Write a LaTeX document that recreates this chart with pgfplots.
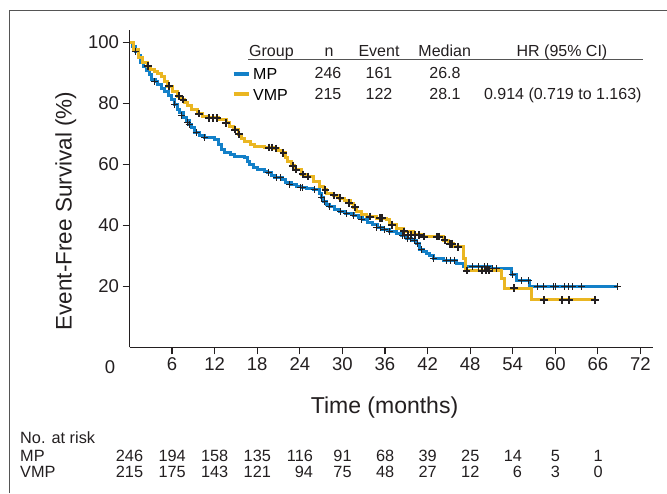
\documentclass[border=0pt]{standalone}
\usepackage{fontspec}
\setmainfont{Liberation Sans}
\usepackage{pgfplots}
\pgfplotsset{compat=1.18}
\definecolor{mpblue}{HTML}{1380C8}
\definecolor{vmpyel}{HTML}{EAB622}
\definecolor{framegray}{HTML}{555555}
\definecolor{ink}{HTML}{231F20}
\newcommand\lt{\fontsize{16}{18}\selectfont}
\newcommand\rt{\fontsize{16.3}{18}\selectfont}
\begin{document}
\begin{tikzpicture}[x=1pt,y=1pt]
\useasboundingbox (0,0) rectangle (667,493);
\fill[white] (0,0) rectangle (667,493);
\draw[framegray, line width=1.5pt] (9.5,0) -- (9.5,482.5) -- (667,482.5);
\begin{axis}[
 at={(129.5pt,145.5pt)}, anchor=south west,
 scale only axis, width=523pt, height=317.5pt,
 xmin=0, xmax=73.7, ymin=0, ymax=104,
 axis lines*=left,
 axis line style={ink, line width=1.5pt},
 xtick={6,12,...,72}, ytick={20,40,60,80,100},
 tick align=outside, major tick length=7pt,
 tick style={ink, line width=1.2pt},
 ticklabel style={font=\fontsize{18.5}{20}\selectfont, text=ink},
 /pgf/number format/assume math mode=true,
 clip=false,
 legend style={at={(0.1954,0.8957)}, anchor=north west, draw=none, fill=none,
   inner sep=0pt, outer sep=0pt, font=\lt, row sep=0pt, column sep=2.5pt,
   nodes={inner sep=0pt, text height=11.5pt, text depth=0pt, minimum height=20.8pt}},
 legend cell align=left,
 legend image code/.code={\draw[#1, line width=4pt, line cap=butt] (0pt,0pt) -- (15pt,0pt);},
]
\addplot[const plot, mpblue, line width=3pt, line join=miter] coordinates {
(0,100) (0.4,98.5) (0.8,96.9) (1.2,95.5) (1.6,93.5) (2.0,92.2) (2.4,90.6) (2.8,89.4)
(3.1,87.8) (3.6,87.0) (4.0,86.2) (4.5,85.0) (5.0,84.0) (5.5,82.5) (5.9,81.2) (6.3,79.6)
(6.8,78.0) (7.1,76.9) (7.6,75.5) (8.0,74.2) (8.4,73.0) (8.7,72.0) (9.2,70.3) (9.8,69.5)
(10.6,68.7) (12.0,68.1) (12.5,66.5) (13.0,65.0) (13.4,63.8) (14.2,63.2) (14.8,62.7)
(16.2,62.1) (16.6,61.0) (16.9,59.9) (17.5,59.0) (18.1,58.3) (19.0,57.6) (19.5,57.2)
(20.0,56.3) (20.4,55.6) (21.5,55.0) (22.0,54.2) (22.8,53.4) (23.5,52.8) (24.2,52.3)
(25.0,52.0) (25.9,51.6) (26.8,50.6) (27.1,49.0) (27.3,47.8) (27.8,47.0) (28.2,46.2)
(28.9,45.3) (29.6,44.5) (30.5,43.8) (31.5,43.1) (32.2,42.5) (32.9,41.8) (33.6,41.0)
(34.3,40.2) (35.0,39.3) (35.7,38.5) (36.6,38.0) (37.6,37.4) (38.3,36.6) (39.0,35.8)
(39.8,35.0) (40.5,34.2) (40.9,32.0) (41.4,31.5) (41.9,30.9) (42.3,30.0) (42.8,29.2)
(44.2,28.5) (46.1,27.6) (47.0,26.5) (51.0,25.8) (53.8,23.8) (54.5,21.9) (56.4,19.9)
(68.8,19.9)};
\addlegendentry{MP}
\addplot[const plot, vmpyel, line width=3pt, line join=miter] coordinates {
(0,100) (0.5,97.5) (1.2,94.9) (1.8,93.5) (2.6,92.2) (3.0,91.2) (3.5,90.5) (4.0,89.6)
(4.5,88.9) (5.0,87.2) (5.4,85.6) (6.0,84.0) (6.8,82.3) (7.3,81.2) (7.8,80.2) (8.2,79.2)
(8.7,78.0) (9.6,76.6) (10.3,75.8) (11.1,75.2) (12.5,74.7) (13.6,73.6) (14.1,72.5)
(14.6,71.4) (15.3,69.8) (15.8,68.6) (16.2,67.6) (17.0,66.5) (17.6,65.9) (19.0,65.5)
(20.4,65.2) (21.0,64.5) (21.4,63.8) (22.0,62.3) (22.3,61.0) (22.8,59.6) (23.3,58.3)
(24.2,56.7) (25.0,56.0) (25.9,54.4) (26.8,52.7) (27.3,51.6) (27.8,50.6) (28.7,49.8)
(29.6,48.9) (30.3,48.1) (31.1,47.3) (31.6,45.9) (32.0,44.5) (32.7,43.7) (33.4,42.9)
(34.8,42.4) (36.2,41.8) (36.7,40.2) (37.6,39.0) (38.6,38.0) (40.0,36.9) (41.4,36.3)
(44.2,35.2) (45.0,34.0) (45.6,33.0) (47.0,29.0) (47.3,25.2) (52.4,22.7) (52.9,19.4)
(56.6,15.6) (65.6,15.6)};
\addlegendentry{VMP}
\addplot[only marks, mark=+, mark size=3.5pt, ink, mark options={line width=1pt}, forget plot] coordinates {
(0.8,96.9) (3.5,87.0) (6.4,79.6) (7.3,76.1) (8.2,73.6) (8.4,73.0) (9.4,70.3) (10.6,68.7)
(19.6,57.2) (20.7,55.6) (21.3,55.6) (22.6,53.4) (24.1,52.3) (24.4,52.3) (26.1,51.6)
(27.1,49.0) (27.5,47.8) (28.2,46.2) (29.8,44.5) (30.6,43.8) (31.6,43.1) (32.7,41.8)
(34.8,39.3) (35.3,39.3) (35.9,38.5) (36.6,38.0) (38.5,36.6) (38.8,36.6) (39.2,35.8)
(39.6,35.8) (40.2,35.0) (40.6,34.2) (41.1,32.0) (42.8,29.2) (44.6,28.5) (45.2,28.5)
(45.8,28.5) (48.3,26.5) (49.2,26.5) (50.0,26.5) (50.5,26.5) (51.2,25.8) (51.7,25.8)
(53.9,23.8) (55.3,21.9) (56.2,21.9) (57.5,19.9) (58.3,19.9) (59.8,19.9) (60.1,19.9)
(61.3,19.9) (61.8,19.9) (62.4,19.9) (63.7,19.9) (68.8,19.9)};
\addplot[only marks, mark=+, mark size=3.8pt, ink, mark options={line width=2pt}, forget plot] coordinates {
(2.6,92.2) (5.6,85.6) (7.0,82.3) (7.6,81.2) (9.8,76.6) (11.2,75.2) (11.8,75.2) (12.4,75.2)
(13.6,73.6) (14.9,71.4) (15.4,69.8) (19.6,65.5) (20.1,65.5) (20.6,65.2) (21.7,63.8)
(23.0,59.6) (23.5,58.3) (24.4,56.7) (25.1,56.0) (27.6,51.6) (28.8,49.8) (29.7,48.9)
(30.9,47.3) (31.8,45.9) (33.9,42.9) (35.3,42.4) (35.6,42.4) (37.0,40.2) (38.7,38.0)
(39.2,36.9) (39.7,36.9) (40.3,36.9) (40.8,36.9) (41.5,36.3) (43.3,36.3) (43.6,36.3)
(44.4,35.2) (45.1,34.0) (45.5,34.0) (46.3,33.0) (47.5,25.2) (49.7,25.2) (50.3,25.2)
(50.7,25.2) (54.2,19.4) (58.4,15.6) (61.0,15.6) (62.0,15.6) (65.6,15.6)};
\end{axis}
% x tick label 0
\node[font=\fontsize{18.5}{20}\selectfont, text=ink, anchor=base] at (110,119.5) {0};
% axis titles
\node[font=\fontsize{23}{25}\selectfont, text=ink, anchor=base] at (384.5,79.7) {Time (months)};
\node[font=\fontsize{22.5}{25}\selectfont, text=ink, anchor=base, rotate=90] at (71.7,282) {Event-Free Survival (\%)};
% legend table
\draw[framegray, line width=1.2pt] (248,433.5) -- (643,433.5);
\begin{scope}[every node/.style={font=\lt, text=ink, inner sep=0pt}]
\node[anchor=base west] at (249,436) {Group};
\node[anchor=base] at (329,436) {n};
\node[anchor=base] at (379,436) {Event};
\node[anchor=base] at (444.7,436) {Median};
\node[anchor=base] at (562,436) {HR (95\% CI)};
\node[anchor=base] at (328,414) {246};
\node[anchor=base] at (379,414) {161};
\node[anchor=base] at (445,414) {26.8};
\node[anchor=base] at (328,393.2) {215};
\node[anchor=base] at (379,393.2) {122};
\node[anchor=base] at (445,393.2) {28.1};
\node[anchor=base east] at (641.7,393.2) {0.914 (0.719 to 1.163)};
\end{scope}
% at-risk table
\begin{scope}[every node/.style={font=\rt, text=ink, inner sep=0pt}]
\node[anchor=base west] at (20,49.3) {No. at risk};
\node[anchor=base west] at (20,31.3) {MP};
\node[anchor=base west] at (20,15.5) {VMP};
\foreach \a/\b [count=\i from 0] in {246/215,194/175,158/143,135/121,116/94,91/75,68/48,39/27,25/12,14/6,5/3,1/0} {
  \node[anchor=base] at (129.5+42.6*\i,31.3) {\a};
  \node[anchor=base] at (129.5+42.6*\i,15.5) {\hphantom{\a}\llap{\b}};
}
\end{scope}
\end{tikzpicture}
\end{document}
